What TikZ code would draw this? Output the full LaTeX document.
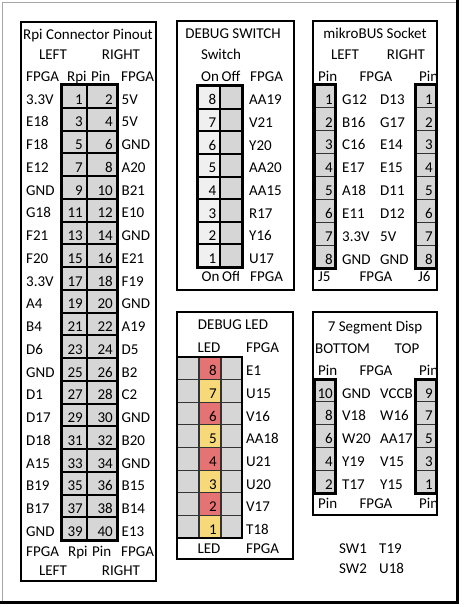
\documentclass[tikz,border=0pt]{standalone}
\usepackage{fontspec}
\setmainfont{Carlito}
\usetikzlibrary{positioning}
\definecolor{cellgray}{HTML}{D6D6D6}
\definecolor{celllight}{HTML}{F0F0F0}
\definecolor{ledred}{HTML}{E57373}
\definecolor{ledyellow}{HTML}{F7D97A}
\tikzset{
	txt/.style={anchor=base west, inner sep=0pt, font=\fontsize{15}{15}\selectfont},
	txtc/.style={txt, anchor=base},
	num/.style={txt, anchor=base east},
	panel/.style={draw=black, line width=2pt, fill=white},
	pinbox/.style={fill=cellgray, draw=black, line width=2pt},
	thinbox/.style={fill=cellgray, draw=black!80, line width=1.2pt},
	pincol/.style={draw=black, line width=3pt},
}
% one row of a table: {name}{x}{baseline}{text}
\newcommand{\cellt}[4]{\node[txt] (#1) at (#2,#3) {#4};}
% text cut off at a cell edge: {name}{x}{baseline}{clip x}{text}
\newcommand{\cutt}[5]{
\begin{scope}
	\clip (#2-2,#3-16) rectangle (#4,#3+5);
	\node[txt] (#1) at (#2,#3) {#5};
\end{scope}
}

\begin{document}
\begin{tikzpicture}[x=1pt,y=-1pt]
	\useasboundingbox (0,0) rectangle (463,607);
	%sheet frame
	\draw[black!35, line width=0.8pt] (2.5,603) -- (2.5,2.5) -- (457,2.5);
	\draw[black, line width=3pt] (0,602.5) -- (457.5,602.5) -- (457.5,0);
	
	%rpi connector
	\draw[panel] (21,22) rectangle (156,581);
	\node[txtc] (rpititle) at (88,39.5) {Rpi Connector Pinout};
	\node[txtc] (rpileft) at (53,60) {LEFT};
	\node[txtc] (rpiright) at (121,60) {RIGHT};
	\cellt{rpihfl}{26}{81.5}{FPGA}
	\cellt{rpihrpi}{67}{81.5}{Rpi}
	\cellt{rpihpin}{91}{81.5}{Pin}
	\cutt{rpihfr}{121}{81.5}{155}{FPGA}
	\foreach \l/\r [count=\i] in {3.3V/5V, E18/5V, F18/GND, E12/A20, GND/B21, G18/E10, F21/GND, F20/E21, 3.3V/F19, A4/GND, B4/A19, D6/D5, GND/B2, D1/C2, D17/GND, D18/B20, A15/GND, B19/B15, B17/B14, GND/E13}
	{
		\pgfmathsetmacro{\yt}{85+22.75*(\i-1)}
		\pgfmathsetmacro{\yb}{\yt+22.75}
		\pgfmathtruncatemacro{\pa}{2*\i-1}
		\pgfmathtruncatemacro{\pb}{2*\i}
		\filldraw[pinbox] (61,\yt) rectangle (87,\yb);
		\filldraw[pinbox] (87,\yt) rectangle (117,\yb);
		\node[num] (rpi\pa) at (83,\yb-3.7) {\pa};
		\node[num] (rpi\pb) at (113,\yb-3.7) {\pb};
		\node[txt] (rpiL\i) at (26,\yb-3.7) {\l};
		\node[txt] (rpiR\i) at (121.5,\yb-3.7) {\r};
	} %end for \i
	\draw[pincol] (61,85) rectangle (117,540);
	\cellt{rpibfl}{26}{556}{FPGA}
	\cellt{rpibrpi}{68}{556}{Rpi}
	\cellt{rpibpin}{92}{556}{Pin}
	\cutt{rpibfr}{121}{556}{155}{FPGA}
	\node[txtc] (rpibleft) at (53,575) {LEFT};
	\node[txtc] (rpibright) at (121,575) {RIGHT};
	
	%debug switch
	\draw[panel] (177,21) rectangle (294,290);
	\node[txtc] (swtitle) at (233,38.5) {DEBUG SWITCH};
	\node[txtc] (swsub) at (221,60) {Switch};
	\cellt{swhon}{201}{81.5}{On}
	\cellt{swhoff}{221.5}{81.5}{Off}
	\cellt{swhf}{250}{81.5}{FPGA}
	\foreach \f [count=\i] in {AA19, V21, Y20, AA20, AA15, R17, Y16, U17}
	{
		\pgfmathsetmacro{\yt}{86+22.625*(\i-1)}
		\pgfmathsetmacro{\yb}{\yt+22.625}
		\pgfmathtruncatemacro{\n}{9-\i}
		\filldraw[pinbox, fill=celllight] (197,\yt) rectangle (220,\yb);
		\filldraw[pinbox] (220,\yt) rectangle (242,\yb);
		\node[num] (sw\n) at (216.5,\yb-3.7) {\n};
		\node[txt] (swf\n) at (249,\yb-3.7) {\f};
	} %end for \i
	\draw[pincol] (197,86) rectangle (242,267);
	\cellt{swbon}{201.5}{281}{On}
	\cutt{swboff}{222}{281}{238.5}{Off}
	\cellt{swbf}{250}{281}{FPGA}
	
	%mikrobus socket
	\draw[panel] (313,21) rectangle (437,290);
	\node[txtc] (mbtitle) at (375,38.5) {mikroBUS Socket};
	\node[txtc] (mbleft) at (345,59.5) {LEFT};
	\node[txtc] (mbright) at (406,59.5) {RIGHT};
	\cellt{mbhpl}{318}{81.5}{Pin}
	\node[txtc] (mbhf) at (376,81.5) {FPGA};
	\cutt{mbhpr}{419}{81.5}{436}{Pin}
	\foreach \l/\r [count=\i] in {G12/D13, B16/G17, C16/E14, E17/E15, A18/D11, E11/D12, 3.3V/5V, GND/GND}
	{
		\pgfmathsetmacro{\yt}{85+22.875*(\i-1)}
		\pgfmathsetmacro{\yb}{\yt+22.875}
		\filldraw[thinbox] (314,\yt) rectangle (335,\yb);
		\filldraw[thinbox] (415,\yt) rectangle (436,\yb);
		\node[num] (jfive\i) at (333,\yb-3.7) {\i};
		\node[num] (jsix\i) at (433,\yb-3.7) {\i};
		\node[txt] (mbL\i) at (342,\yb-3.7) {\l};
		\node[txt] (mbR\i) at (380,\yb-3.7) {\r};
	} %end for \i
	\draw[pincol] (314,85) rectangle (335,268);
	\draw[pincol] (415,85) rectangle (436,268);
	\cellt{mbbj5}{318}{281.5}{J5}
	\node[txtc] (mbbf) at (376,281.5) {FPGA};
	\cellt{mbbj6}{418}{281.5}{J6}
	
	%debug led
	\draw[panel] (177,312) rectangle (293,559);
	\node[txtc] (ledtitle) at (233,329.5) {DEBUG LED};
	\node[txtc] (ledhl) at (209,352.5) {LED};
	\cellt{ledhf}{246}{352.5}{FPGA}
	\foreach \f [count=\i] in {E1, U15, V16, AA18, U21, U20, V17, T18}
	{
		\pgfmathsetmacro{\yt}{357+22.625*(\i-1)}
		\pgfmathsetmacro{\yb}{\yt+22.625}
		\pgfmathtruncatemacro{\n}{9-\i}
		\pgfmathtruncatemacro{\odd}{mod(\n,2)}
		\ifnum\odd=1 \def\ledcol{ledyellow}\else \def\ledcol{ledred}\fi
		\filldraw[thinbox] (177,\yt) rectangle (199,\yb);
		\filldraw[thinbox, fill=\ledcol] (199,\yt) rectangle (221,\yb);
		\filldraw[thinbox] (221,\yt) rectangle (242,\yb);
		\node[num] (led\n) at (217,\yb-3.7) {\n};
		\node[txt] (ledf\n) at (246,\yb-3.7) {\f};
	} %end for \i
	\draw[line width=2pt] (177,357) rectangle (242,538);
	\node[txtc] (ledbl) at (209,553) {LED};
	\cellt{ledbf}{246}{553}{FPGA}
	
	%7 segment display
	\draw[panel] (313,312) rectangle (437,515);
	\node[txtc] (segtitle) at (375,331.5) {7 Segment Disp};
	\cellt{segbot}{315}{353}{BOTTOM}
	\node[txtc] (segtop) at (407,353) {TOP};
	\cellt{seghpl}{318}{375.5}{Pin}
	\node[txtc] (seghf) at (376,375.5) {FPGA};
	\cutt{seghpr}{419}{375.5}{436}{Pin}
	\foreach \pl/\l/\pr/\r [count=\i] in {10/GND/9/VCCB, 8/V18/7/W16, 6/W20/5/AA17, 4/Y19/3/V15, 2/T17/1/Y15}
	{
		\pgfmathsetmacro{\yt}{379+22.8*(\i-1)}
		\pgfmathsetmacro{\yb}{\yt+22.8}
		\filldraw[thinbox] (314,\yt) rectangle (335,\yb);
		\filldraw[thinbox] (415,\yt) rectangle (436,\yb);
		\node[num] (segp\pl) at (333,\yb-3.7) {\pl};
		\node[num] (segp\pr) at (433,\yb-3.7) {\pr};
		\node[txt] (segL\i) at (342,\yb-3.7) {\l};
		\node[txt] (segR\i) at (380,\yb-3.7) {\r};
	} %end for \i
	\draw[pincol] (314,379) rectangle (335,493);
	\draw[pincol] (415,379) rectangle (436,493);
	\cellt{segbpl}{318}{508}{Pin}
	\node[txtc] (segbf) at (376,508) {FPGA};
	\cutt{segbpr}{419}{508}{436}{Pin}
	
	%switch pins
	\cellt{swone}{339}{553}{SW1}
	\cellt{swonef}{379}{553}{T19}
	\cellt{swtwo}{339}{573}{SW2}
	\cellt{swtwof}{379}{573}{U18}
\end{tikzpicture}
\end{document}
